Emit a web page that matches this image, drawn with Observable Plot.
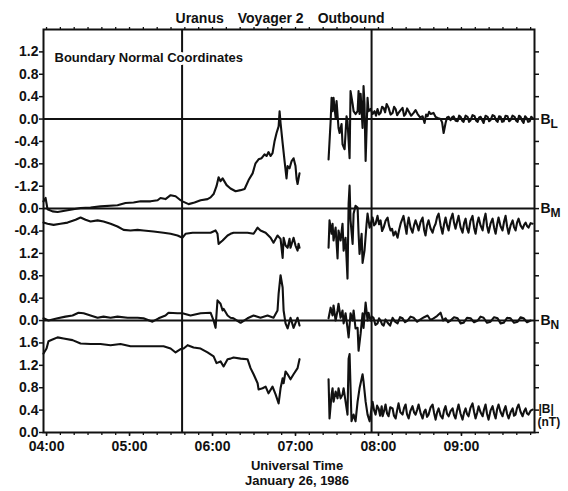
<!DOCTYPE html>
<html>
<head>
<meta charset="utf-8">
<script src="https://cdn.jsdelivr.net/npm/d3@7"></script>
<script src="https://cdn.jsdelivr.net/npm/@observablehq/plot@0.6"></script>
<style>
  html, body { margin: 0; padding: 0; background: #fff; }
  svg { display: block; overflow: visible; }
</style>
</head>
<body>
<div id="chart"></div>
<script>
// Uranus outbound magnetopause crossing, Voyager 2 magnetometer, 26 Jan 1986.
// Time is given in minutes after 04:00 UT; field components in boundary normal coordinates.

const title = "Uranus\u2002\u2002Voyager 2\u2002\u2002Outbound";
const note = "Boundary Normal Coordinates";
const xTitle = ["Universal Time", "January 26, 1986"];

const hourTicks = [0, 60, 120, 180, 240, 300];
const hourLabels = ["04:00", "05:00", "06:00", "07:00", "08:00", "09:00"];

// boundary crossing markers (minutes after 04:00)
const boundaries = [98, 235];

// stacked panels: each trace is drawn around its own baseline
const componentNames = ["B", "B", "B"];
const componentSubs = ["L", "M", "N"];
const componentOffsets = [5.6, 4.0, 2.0];
const magnitudeName = ["|B|", "(nT)"];
const magnitudeOffset = 0;

// left axis: tick positions in stacked units and the printed values
const yTicks = [0, 0.4, 0.8, 1.2, 1.6, 2.0, 2.4, 2.8, 3.2, 3.6, 4.0, 4.4, 4.8, 5.2, 5.6, 6.0, 6.4, 6.8];
const yTickLabels = ["0.0", "0.4", "0.8", "1.2", "1.6", "0.0", "0.4", "0.8", "1.2", "-0.4", "0.0", "-1.2", "-0.8", "-0.4", "0.0", "0.4", "0.8", "1.2"];

// B_L
const bL = [
  [-2.2,-1.47],[-0.7,-1.41],[0.7,-1.61],[4.3,-1.65],[8.0,-1.66],[15.2,-1.63],[24.6,-1.59],[31.8,-1.58],
  [39.0,-1.56],[51.3,-1.54],[57.1,-1.50],[62.9,-1.49],[68.0,-1.47],[75.2,-1.47],[80.3,-1.45],[82.4,-1.41],
  [86.0,-1.43],[89.7,-1.36],[93.3,-1.38],[96.9,-1.45],[98.3,-1.47],[102.7,-1.52],[107.0,-1.49],[111.4,-1.45],
  [116.4,-1.43],[118.6,-1.40],[120.8,-1.34],[122.9,-1.20],[124.4,-1.04],[125.8,-1.11],[127.3,-1.06],[130.2,-1.18],
  [133.0,-1.24],[136.7,-1.29],[140.3,-1.27],[143.2,-1.25],[146.1,-1.09],[149.0,-0.97],[151.1,-0.79],[153.3,-0.72],
  [155.5,-0.70],[157.6,-0.63],[159.1,-0.66],[160.5,-0.59],[162.0,-0.66],[163.4,-0.61],[164.9,-0.39],[166.3,-0.25],
  [167.8,-0.13],[168.5,0.14],[169.2,-0.07],[170.7,-0.43],[172.1,-0.75],[173.5,-1.06],[174.3,-0.84],[175.7,-0.88],
  [177.2,-0.75],[178.6,-0.70],[180.0,-0.84],[180.8,-1.07],[181.5,-1.16],[182.9,-0.97],
  [193,null],
  [203.9,-0.72],[205.4,-0.04],[206.1,0.38],[206.8,0.14],[207.5,0.38],[209.0,0.02],[209.7,0.32],[211.1,-0.16],
  [211.9,-0.25],[213.3,-0.09],[214.0,-0.45],[215.5,-0.54],[216.9,0.05],[217.6,-0.04],[219.1,-0.70],[219.8,0.50],
  [221.3,0.27],[222.0,0.14],[223.4,0.09],[224.9,0.14],[225.6,0.50],[226.3,0.09],[227.1,0.45],[228.5,-0.16],
  [229.2,0.59],[229.9,0.27],[230.7,-0.75],[232.1,0.38],[232.8,0.14],[234.3,0.18],[235.7,0.09],[237.2,0.14],
  [238.2,0.06],[239.3,0.18],[240.4,0.08],[241.5,0.11],[242.6,0.22],[243.7,0.20],[244.8,0.12],[245.9,0.27],
  [247.3,0.20],[248.7,0.08],[250.2,0.11],[251.3,0.22],[252.4,0.18],[253.5,0.07],[254.5,0.11],[256.0,0.16],
  [257.4,0.20],[258.5,0.06],[259.6,0.09],[260.7,0.19],[261.8,0.14],[263.6,0.06],[265.4,0.11],[266.8,0.16],
  [268.3,0.09],[270.1,0.03],[271.9,0.05],[273.3,-0.07],[274.4,0.08],[275.5,0.05],[276.6,0.13],[277.7,0.09],
  [279.8,0.11],[281.2,0.04],[282.7,0.02],[284.9,0.00],[286.0,-0.06],[287.1,-0.25],[288.5,-0.07],[289.6,0.03],
  [290.7,0.04],[292.1,-0.02],[293.2,0.03],[294.3,0.05],[295.8,-0.03],[297.2,-0.04],[298.3,0.06],[299.4,0.04],
  [300.5,-0.03],[301.5,-0.05],[303.0,0.06],[304.4,0.04],[305.5,-0.05],[306.6,-0.02],[308.0,0.07],[309.5,0.05],
  [310.6,-0.03],[311.7,-0.05],[312.8,0.03],[313.8,0.04],[315.0,-0.02],[316.0,-0.07],[317.4,0.06],[318.9,0.04],
  [320.0,-0.04],[321.0,-0.02],[322.5,0.07],[323.9,0.05],[325.0,-0.02],[326.1,-0.05],[327.2,0.05],[328.3,0.04],
  [329.4,-0.05],[330.5,-0.04],[331.9,0.06],[333.3,0.05],[334.4,-0.04],[335.5,-0.02],[336.9,0.06],[338.4,0.04],
  [339.5,-0.03],[340.6,-0.05],[341.6,0.06],[342.7,0.04],[343.8,-0.03],[344.9,-0.07],[346.0,0.05],[347.1,0.02],
  [348.2,-0.05],[349.3,-0.04],[350.4,0.04],[351.4,0.02]
];

// B_M
const bM = [
  [-2.2,-0.25],[0.7,-0.27],[5.1,-0.29],[10.1,-0.27],[15.2,-0.25],[21.0,-0.20],[24.6,-0.16],[28.2,-0.20],
  [31.8,-0.23],[36.9,-0.21],[41.2,-0.23],[46.3,-0.27],[51.3,-0.32],[55.7,-0.38],[60.7,-0.39],[65.8,-0.38],
  [70.1,-0.39],[77.4,-0.41],[84.6,-0.43],[89.7,-0.45],[94.7,-0.48],[98.3,-0.52],[100.5,-0.45],[105.6,-0.43],
  [111.4,-0.43],[118.6,-0.43],[122.2,-0.39],[123.6,-0.45],[124.4,-0.63],[127.3,-0.57],[130.9,-0.48],[133.0,-0.45],
  [135.2,-0.43],[140.3,-0.43],[145.3,-0.43],[149.7,-0.45],[152.6,-0.34],[154.7,-0.39],[158.4,-0.43],[162.0,-0.52],
  [164.1,-0.61],[167.0,-0.48],[169.2,-0.54],[170.7,-0.88],[171.4,-0.52],[172.8,-0.66],[174.3,-0.70],[175.7,-0.54],
  [176.4,-0.70],[178.6,-0.52],[180.0,-0.66],[181.5,-0.75],[182.2,-0.63],[182.9,-0.70],
  [193,null],
  [203.9,-0.70],[204.6,-0.21],[206.1,-0.45],[206.8,-0.27],[207.5,-0.57],[209.0,-0.34],[210.4,-0.89],[211.1,-0.39],
  [212.6,-0.57],[214.0,-0.27],[214.8,-0.75],[216.2,-0.52],[217.6,-1.25],[218.4,0.09],[219.1,0.41],[219.8,-0.21],
  [221.3,-0.63],[222.0,-0.09],[223.4,0.05],[224.9,0.02],[225.6,-0.45],[226.3,-0.81],[227.8,-0.45],[228.5,-0.97],
  [229.9,-0.75],[231.4,-0.27],[232.1,-0.09],[233.6,-0.34],[235.7,-0.16],[236.8,-0.30],[237.9,-0.27],[239.3,-0.13],
  [240.4,-0.28],[241.5,-0.21],[242.6,-0.40],[243.7,-0.34],[245.1,-0.22],[246.6,-0.16],[247.6,-0.30],[248.7,-0.39],
  [249.8,-0.36],[250.9,-0.48],[252.3,-0.41],[253.8,-0.52],[254.9,-0.38],[256.0,-0.27],[257.0,-0.20],[258.1,-0.13],
  [259.2,-0.30],[260.3,-0.45],[261.0,-0.28],[261.8,-0.16],[263.2,-0.34],[264.6,-0.43],[265.7,-0.30],[266.8,-0.21],
  [267.9,-0.29],[269.0,-0.39],[270.4,-0.24],[271.9,-0.16],[273.0,-0.38],[274.0,-0.48],[275.1,-0.30],[276.2,-0.21],
  [277.6,-0.35],[279.1,-0.43],[280.2,-0.33],[281.3,-0.27],[282.4,-0.15],[283.5,-0.09],[284.9,-0.30],[286.3,-0.45],
  [287.4,-0.28],[288.5,-0.16],[289.6,-0.30],[290.7,-0.39],[292.1,-0.20],[293.6,-0.09],[294.6,-0.25],[295.7,-0.36],
  [296.8,-0.24],[297.9,-0.13],[299.3,-0.33],[300.8,-0.43],[301.9,-0.26],[303.0,-0.18],[304.0,-0.35],[305.1,-0.43],
  [306.5,-0.22],[308.0,-0.13],[309.1,-0.34],[310.2,-0.45],[311.3,-0.27],[312.4,-0.16],[313.8,-0.30],[315.3,-0.39],
  [316.3,-0.20],[317.4,-0.09],[318.5,-0.31],[319.6,-0.43],[321.0,-0.27],[322.5,-0.18],[323.6,-0.34],[324.7,-0.45],
  [325.8,-0.28],[326.8,-0.16],[328.2,-0.31],[329.7,-0.39],[330.8,-0.23],[331.9,-0.13],[333.0,-0.32],[334.1,-0.45],
  [335.5,-0.30],[337.0,-0.21],[338.0,-0.33],[339.1,-0.39],[340.2,-0.25],[341.3,-0.18],[342.7,-0.30],[344.2,-0.36],
  [345.3,-0.29],[346.4,-0.25],[347.4,-0.31],[348.5,-0.34],[350.0,-0.26],[351.4,-0.27]
];

// B_N
const bN = [
  [-2.2,0.04],[1.4,0.00],[8.0,0.04],[13.7,0.07],[18.8,0.09],[23.1,0.14],[26.8,0.13],[31.8,0.09],
  [36.9,0.05],[41.2,0.07],[46.3,0.05],[51.3,0.07],[58.6,0.05],[65.8,0.05],[70.1,0.04],[76.6,-0.02],
  [81.0,0.04],[86.0,0.09],[88.2,0.14],[94.7,0.13],[98.3,0.13],[104.1,0.09],[111.4,0.13],[118.6,0.14],
  [120.8,0.00],[122.2,-0.13],[123.6,0.36],[125.8,0.30],[127.3,0.18],[128.0,0.21],[130.9,0.09],[133.0,0.05],
  [135.2,0.04],[140.3,-0.04],[145.3,0.04],[149.7,0.09],[154.7,0.05],[159.8,0.09],[164.1,0.05],[167.0,0.18],
  [167.8,0.48],[169.2,0.81],[170.7,0.59],[171.4,0.18],[172.8,-0.05],[174.3,-0.14],[176.4,0.05],[178.6,-0.13],
  [181.5,0.05],[182.9,-0.09],
  [193,null],
  [203.9,0.04],[205.4,0.23],[206.8,0.09],[207.5,0.27],[209.0,0.00],[210.4,0.18],[211.1,0.30],[212.6,0.05],
  [214.0,0.18],[214.8,-0.05],[216.2,0.13],[217.6,-0.13],[218.4,-0.30],[219.8,0.13],[221.3,0.00],[222.0,0.18],
  [223.4,-0.14],[224.9,-0.13],[225.6,-0.54],[227.1,-0.23],[228.5,0.13],[229.2,-0.13],[230.7,0.32],[232.1,0.00],
  [232.8,0.14],[234.3,0.00],[235.3,0.07],[236.4,0.05],[237.8,-0.08],[239.3,-0.05],[240.4,0.04],[241.5,0.00],
  [242.6,-0.07],[243.7,-0.09],[245.1,0.02],[246.6,-0.04],[248.4,-0.09],[250.2,0.05],[252.0,-0.02],[253.8,-0.05],
  [255.6,0.06],[257.4,0.04],[259.2,-0.03],[261.0,0.00],[263.2,0.07],[265.4,0.05],[268.0,-0.02],[270.4,0.02],
  [273.0,0.06],[275.5,0.09],[277.6,0.01],[279.8,0.04],[282.3,0.08],[284.9,0.14],[286.7,0.00],[288.5,0.04],
  [290.3,-0.03],[292.1,0.00],[294.6,0.06],[297.2,0.04],[299.4,-0.05],[301.5,-0.04],[304.0,0.05],[306.6,0.04],
  [309.1,-0.03],[311.7,0.00],[313.8,0.07],[316.0,0.05],[318.5,-0.04],[321.0,-0.02],[323.6,0.06],[326.1,0.04],
  [328.3,-0.05],[330.5,-0.04],[333.0,0.05],[335.5,0.04],[338.0,-0.04],[340.6,-0.02],[342.7,0.06],[344.9,0.04],
  [347.4,-0.03],[350.0,0.00]
];

// |B|
const bMag = [
  [-2.2,1.41],[0.0,1.50],[1.4,1.63],[4.3,1.66],[8.0,1.70],[12.3,1.68],[18.8,1.65],[24.6,1.59],
  [31.8,1.58],[39.0,1.58],[46.3,1.56],[53.5,1.58],[60.7,1.54],[68.0,1.54],[77.4,1.54],[84.6,1.54],
  [89.7,1.50],[93.3,1.43],[96.9,1.49],[99.1,1.50],[102.0,1.56],[106.3,1.52],[111.4,1.50],[116.4,1.43],
  [120.8,1.36],[122.9,1.24],[125.8,1.27],[128.0,1.18],[130.9,1.31],[133.0,1.32],[135.2,1.34],[140.3,1.32],
  [145.3,1.31],[147.5,1.15],[149.7,1.04],[152.6,0.88],[153.3,0.77],[156.2,0.79],[158.4,0.82],[160.5,0.70],
  [163.4,0.82],[165.6,0.68],[167.8,0.52],[169.2,0.79],[170.7,0.97],[171.4,0.88],[172.8,1.09],[174.3,1.04],
  [176.4,0.95],[178.6,1.04],[181.5,1.15],[182.9,1.31],
  [193,null],
  [203.9,0.95],[204.6,0.25],[206.1,0.68],[206.8,0.79],[207.5,0.55],[209.0,0.73],[210.4,0.61],[211.1,0.79],
  [212.6,0.61],[214.0,0.68],[214.8,0.79],[216.2,0.55],[217.6,0.32],[218.4,1.32],[219.1,1.40],[220.5,0.20],
  [222.0,0.32],[223.4,0.20],[224.9,0.55],[226.3,0.79],[228.5,1.04],[229.2,0.91],[230.7,0.55],[232.1,0.32],
  [233.6,0.20],[235.7,0.55],[236.8,0.40],[237.9,0.32],[239.0,0.48],[240.1,0.43],[241.2,0.30],[242.3,0.47],
  [243.0,0.29],[244.0,0.38],[245.1,0.50],[246.2,0.34],[247.3,0.29],[248.5,0.45],[250.2,0.43],[251.2,0.30],
  [252.4,0.25],[253.5,0.40],[254.5,0.52],[255.8,0.36],[257.4,0.32],[258.5,0.44],[259.6,0.50],[260.6,0.33],
  [261.8,0.25],[263.0,0.38],[264.6,0.47],[265.7,0.36],[266.8,0.32],[268.0,0.41],[269.0,0.50],[270.5,0.34],
  [271.9,0.25],[273.0,0.37],[274.0,0.41],[275.1,0.28],[276.2,0.32],[277.7,0.45],[279.1,0.50],[280.2,0.35],
  [281.3,0.23],[282.4,0.36],[283.5,0.43],[284.9,0.30],[286.3,0.25],[287.4,0.40],[288.5,0.47],[289.6,0.33],
  [290.7,0.29],[292.1,0.38],[293.6,0.43],[294.6,0.31],[295.7,0.25],[296.8,0.39],[297.9,0.50],[299.3,0.34],
  [300.8,0.23],[301.9,0.36],[303.0,0.43],[304.0,0.33],[305.1,0.29],[306.5,0.44],[308.0,0.52],[309.1,0.37],
  [310.2,0.25],[311.3,0.35],[312.4,0.47],[313.8,0.36],[315.3,0.29],[316.3,0.41],[317.4,0.50],[318.5,0.33],
  [319.6,0.23],[321.0,0.39],[322.5,0.47],[323.6,0.34],[324.7,0.25],[325.8,0.42],[326.8,0.50],[328.2,0.37],
  [329.7,0.29],[330.8,0.40],[331.9,0.47],[333.0,0.33],[334.1,0.25],[335.5,0.36],[337.0,0.43],[338.0,0.30],
  [339.1,0.32],[340.2,0.44],[341.3,0.50],[342.7,0.37],[344.2,0.29],[345.3,0.38],[346.4,0.43],[347.4,0.34],
  [348.5,0.32],[350.0,0.39],[351.4,0.41]
];

const series = [bL, bM, bN, bMag];
const seriesOffsets = [...componentOffsets, magnitudeOffset];

// ---- build the chart ----
const font = "'Liberation Sans', Arial, Helvetica, sans-serif";
const tickLabel = new Map(yTicks.map((t, i) => [t.toFixed(1), yTickLabels[i]]));
const hourLabel = new Map(hourTicks.map((t, i) => [t, hourLabels[i]]));
const components = componentNames.map((name, i) => ({name, sub: componentSubs[i], offset: componentOffsets[i]}));

const lineMarks = series.map((s, i) =>
  Plot.line(s, {
    x: d => d[0],
    y: d => d[1] == null ? NaN : d[1] + seriesOffsets[i],
    stroke: "#111",
    strokeWidth: 2.1,
    strokeLinejoin: "round"
  })
);

const chart = Plot.plot({
  width: 568,
  height: 491,
  marginTop: 29,
  marginBottom: 59,
  marginLeft: 43,
  marginRight: 34,
  style: {fontFamily: font, fontWeight: "bold", fontSize: "14px", color: "#111", background: "#fff"},
  x: {domain: [-2.2, 352.8]},
  y: {domain: [0, 7.2]},
  marks: [
    // minor 10-minute ticks on top and bottom edges
    Plot.axisX({anchor: "bottom", ticks: d3.range(0, 353, 10), tickSize: 3, tickFormat: () => "", label: null, strokeWidth: 1.3}),
    Plot.axisX({anchor: "top", ticks: d3.range(0, 353, 10), tickSize: 3, tickFormat: () => "", label: null, strokeWidth: 1.3}),
    // hour labels
    Plot.axisX({anchor: "bottom", ticks: hourTicks, tickSize: 4, tickPadding: 5, tickFormat: d => hourLabel.get(d),
      fontSize: 14, fontWeight: "bold", label: null, strokeWidth: 1.5}),
    // left values and right edge ticks
    Plot.axisY({anchor: "left", ticks: yTicks, tickSize: 4, tickPadding: 1, tickFormat: d => tickLabel.get(d.toFixed(1)),
      fontSize: 14, fontWeight: "bold", label: null, strokeWidth: 1.5}),
    Plot.axisY({anchor: "right", ticks: yTicks, tickSize: 4, tickFormat: () => "", label: null, strokeWidth: 1.5}),
    // panel baselines and boundary crossings
    Plot.ruleY(componentOffsets, {stroke: "#111", strokeWidth: 2}),
    Plot.ruleX(boundaries, {stroke: "#111", strokeWidth: 2}),
    ...lineMarks,
    Plot.frame({stroke: "#111", strokeWidth: 2}),
    // annotations
    Plot.text([note], {frameAnchor: "top-left", dx: 11, dy: 23, lineAnchor: "top", textAnchor: "start",
      fontSize: 13, fontWeight: "bold", fill: "#111", stroke: "white", strokeWidth: 6, paintOrder: "stroke"}),
    Plot.text([title], {frameAnchor: "top", dx: -9, dy: -7, lineAnchor: "bottom", fontSize: 14, fontWeight: "bold", fill: "#111"}),
    Plot.text([xTitle[0]], {frameAnchor: "bottom", dx: 8, dy: 33, lineAnchor: "middle", fontSize: 13, fontWeight: "bold", fill: "#111"}),
    Plot.text([xTitle[1]], {frameAnchor: "bottom", dx: 8, dy: 48, lineAnchor: "middle", fontSize: 13, fontWeight: "bold", fill: "#111"}),
    // component names on the right edge, with subscripts
    Plot.text(components, {y: "offset", text: "name", frameAnchor: "right", dx: 6, textAnchor: "start",
      lineAnchor: "middle", fontSize: 14, fontWeight: "bold", fill: "#111"}),
    Plot.text(components, {y: "offset", text: "sub", frameAnchor: "right", dx: 16, dy: 5, lineAnchor: "middle",
      textAnchor: "start", fontSize: 12, fontWeight: "bold", fill: "#111"}),
    // magnitude label, two rows
    Plot.text([magnitudeName[0]], {y: [magnitudeOffset], frameAnchor: "right", dx: 4, dy: -23, textAnchor: "start",
      lineAnchor: "middle", fontSize: 12, fontWeight: "bold", fill: "#111"}),
    Plot.text([magnitudeName[1]], {y: [magnitudeOffset], frameAnchor: "right", dx: 3, dy: -10, textAnchor: "start",
      lineAnchor: "middle", fontSize: 12, fontWeight: "bold", fill: "#111"})
  ]
});

document.getElementById("chart").append(chart);
</script>
</body>
</html>
